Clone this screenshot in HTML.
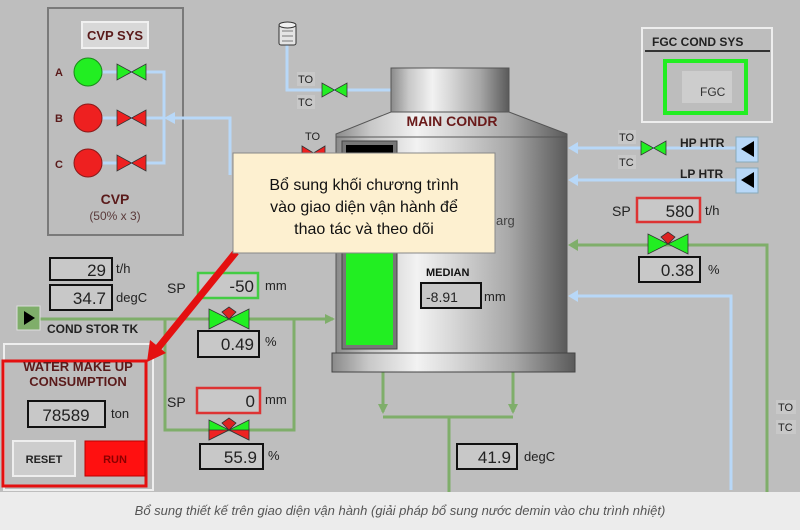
<!DOCTYPE html>
<html><head><meta charset="utf-8"><style>
html,body{margin:0;padding:0;width:800px;height:530px;overflow:hidden;background:#bebebe}
svg{display:block}
text{font-family:"Liberation Sans",sans-serif}
</style></head><body>
<svg width="800" height="530" viewBox="0 0 800 530" xmlns="http://www.w3.org/2000/svg">
<defs>
<linearGradient id="cyl" x1="0" x2="1" y1="0" y2="0">
<stop offset="0" stop-color="#8a8a8a"/><stop offset="0.15" stop-color="#c8c8c8"/><stop offset="0.35" stop-color="#f2f2f2"/><stop offset="0.5" stop-color="#d8d8d8"/><stop offset="0.75" stop-color="#a8a8a8"/><stop offset="1" stop-color="#5a5a5a"/>
</linearGradient>
<marker id="ag" markerWidth="10" markerHeight="10" refX="8" refY="5" orient="auto" markerUnits="userSpaceOnUse"><path d="M0,0 L10,5 L0,10 Z" fill="#7fae6a"/></marker>
</defs>
<rect width="800" height="492" fill="#bebebe"/>
<!-- CVP panel -->
<rect x="48" y="8" width="135" height="227" fill="#bdbdbd" stroke="#7a7a7a" stroke-width="2"/>
<rect x="82" y="22" width="66" height="26" fill="#d8d8d8" stroke="#f0f0f0" stroke-width="2"/>
<text x="115" y="40" font-size="13" font-weight="bold" fill="#5a1a1a" text-anchor="middle">CVP SYS</text>
<g font-size="11" font-weight="bold" fill="#5a1a1a"><text x="55" y="76">A</text><text x="55" y="122">B</text><text x="55" y="168">C</text></g>
<g stroke="#b8d8f8" stroke-width="3" fill="none">
<path d="M100,72 H164 V163 H100"/><path d="M100,118 H164"/>
<path d="M230,175 V118 H172"/>
<path d="M287,45 V90 H391"/>
<path d="M736,148 H572"/><path d="M736,180 H572"/>
<path d="M731,490 V296 H572"/>
</g>
<path d="M164,118 L175,112 L175,124 Z" fill="#b8d8f8"/>
<path d="M568,148 l10,-6 v12 Z M568,180 l10,-6 v12 Z M568,296 l10,-6 v12 Z" fill="#b8d8f8"/>
<circle cx="88" cy="72" r="14" fill="#22ee22" stroke="#1a8a1a"/>
<circle cx="88" cy="118" r="14" fill="#ee2020" stroke="#8a1a1a"/>
<circle cx="88" cy="163" r="14" fill="#ee2020" stroke="#8a1a1a"/>
<g stroke="#333" stroke-width="0.8">
<path d="M117,64 V80 L146,64 V80 Z" fill="#22ee22"/>
<path d="M117,110 V126 L146,110 V126 Z" fill="#ee2020"/>
<path d="M117,155 V171 L146,155 V171 Z" fill="#ee2020"/>
<path d="M322,83 V97 L347,83 V97 Z" fill="#22ee22"/>
<path d="M302,146 V160 L325,146 V160 Z" fill="#ee2020"/>
<path d="M641,141 V155 L666,141 V155 Z" fill="#22ee22"/>
</g>
<text x="115" y="204" font-size="14" font-weight="bold" fill="#5a1a1a" text-anchor="middle">CVP</text>
<text x="115" y="220" font-size="12" fill="#5a3a3a" text-anchor="middle">(50% x 3)</text>
<!-- tank icon -->
<rect x="279" y="25" width="17" height="20" rx="2" fill="#e4e4e4" stroke="#333"/>
<ellipse cx="287.5" cy="25" rx="8.5" ry="3" fill="#f0f0f0" stroke="#333"/>
<path d="M282,31 H293 M282,36 H293 M282,41 H293" stroke="#555" stroke-width="0.8"/>
<g font-size="11" fill="#222"><rect x="297" y="72" width="18" height="14" fill="#c8c8c8"/><text x="298" y="83">TO</text><rect x="297" y="95" width="18" height="14" fill="#c8c8c8"/><text x="298" y="106">TC</text>
<text x="305" y="140">TO</text>
<rect x="618" y="130" width="18" height="14" fill="#c8c8c8"/><text x="619" y="141">TO</text><rect x="618" y="155" width="18" height="14" fill="#c8c8c8"/><text x="619" y="166">TC</text>
<rect x="776" y="400" width="20" height="14" fill="#c8c8c8"/><text x="778" y="411">TO</text><rect x="776" y="420" width="20" height="14" fill="#c8c8c8"/><text x="778" y="431">TC</text></g>
<!-- green lines -->
<g stroke="#7fae6a" stroke-width="3" fill="none">
<path d="M40,319 H333" marker-end="url(#ag)"/>
<path d="M165,319 V430 H294 V319"/>
<path d="M383,372 V412" marker-end="url(#ag)"/><path d="M513,372 V412" marker-end="url(#ag)"/>
<path d="M383,417 H513"/><path d="M449,417 V492"/>
<path d="M767,492 V245 H575"/>
</g>
<path d="M568,245 l10,-6 v12 Z" fill="#7fae6a"/>
<!-- condenser -->
<rect x="391" y="68" width="118" height="45" fill="url(#cyl)" stroke="#555"/>
<path d="M391,112 H509 L567,134 V137 H336 V134 Z" fill="url(#cyl)" stroke="#555"/>
<rect x="336" y="137" width="231" height="216" fill="url(#cyl)" stroke="#555"/>
<rect x="332" y="353" width="243" height="19" fill="url(#cyl)" stroke="#444"/>
<rect x="342" y="141" width="55" height="208" fill="#777" stroke="#444"/>
<rect x="346" y="145" width="47" height="35" fill="#000"/>
<rect x="346" y="180" width="47" height="165" fill="#22ee22"/>
<text x="452" y="126" font-size="14" font-weight="bold" fill="#6a1a1a" text-anchor="middle">MAIN CONDR</text>
<text x="496" y="225" font-size="13" fill="#444">arg</text>
<text x="426" y="276" font-size="11" font-weight="bold" fill="#111">MEDIAN</text>
<rect x="421" y="283" width="60" height="25" fill="#c8c8c8" stroke="#111" stroke-width="2"/>
<text x="426" y="302" font-size="14" fill="#222">-8.91</text><text x="484" y="301" font-size="13" fill="#222">mm</text>
<!-- FGC -->
<rect x="642" y="28" width="130" height="94" fill="#bdbdbd" stroke="#eee" stroke-width="2"/>
<path d="M645,51 H770" stroke="#333" stroke-width="2"/>
<text x="652" y="46" font-size="12" font-weight="bold" fill="#222">FGC COND SYS</text>
<rect x="665" y="61" width="81" height="52" fill="none" stroke="#22ee22" stroke-width="4"/>
<rect x="682" y="71" width="50" height="32" fill="#cdcdcd"/>
<text x="700" y="96" font-size="12" fill="#333">FGC</text>
<g font-size="12" font-weight="bold" fill="#222"><text x="680" y="147">HP HTR</text><text x="680" y="178">LP HTR</text></g>
<rect x="736" y="137" width="22" height="25" fill="#b8d8f8" stroke="#8ab"/><path d="M741,149 L754,141 V157 Z" fill="#000"/>
<rect x="736" y="168" width="22" height="25" fill="#b8d8f8" stroke="#8ab"/><path d="M741,180 L754,172 V188 Z" fill="#000"/>
<!-- value boxes -->
<g font-size="17" fill="#222">
<text x="612" y="216" font-size="14">SP</text>
<rect x="637" y="198" width="63" height="24" fill="#c8c8c8" stroke="#d33" stroke-width="2.5"/><text x="694" y="217" text-anchor="end">580</text><text x="705" y="215" font-size="13">t/h</text>
<rect x="639" y="257" width="61" height="25" fill="#c8c8c8" stroke="#111" stroke-width="2"/><text x="694" y="276" text-anchor="end">0.38</text><text x="708" y="274" font-size="13">%</text>
<rect x="457" y="444" width="60" height="25" fill="#c8c8c8" stroke="#111" stroke-width="2"/><text x="511" y="463" text-anchor="end">41.9</text><text x="524" y="461" font-size="13">degC</text>
<rect x="50" y="258" width="62" height="22" fill="#c8c8c8" stroke="#111" stroke-width="2"/><text x="106" y="276" text-anchor="end">29</text><text x="116" y="273" font-size="13">t/h</text>
<rect x="50" y="285" width="62" height="25" fill="#c8c8c8" stroke="#111" stroke-width="2"/><text x="106" y="304" text-anchor="end">34.7</text><text x="116" y="302" font-size="13">degC</text>
<text x="167" y="293" font-size="14">SP</text>
<rect x="198" y="273" width="60" height="25" fill="#c8c8c8" stroke="#4c4" stroke-width="2.5"/><text x="254" y="292" text-anchor="end">-50</text><text x="265" y="290" font-size="13">mm</text>
<rect x="198" y="331" width="61" height="26" fill="#c8c8c8" stroke="#111" stroke-width="2"/><text x="254" y="350" text-anchor="end">0.49</text><text x="265" y="346" font-size="13">%</text>
<text x="167" y="407" font-size="14">SP</text>
<rect x="197" y="388" width="63" height="25" fill="#c8c8c8" stroke="#d33" stroke-width="2.5"/><text x="255" y="407" text-anchor="end">0</text><text x="265" y="404" font-size="13">mm</text>
<rect x="200" y="444" width="63" height="25" fill="#c8c8c8" stroke="#111" stroke-width="2"/><text x="257" y="463" text-anchor="end">55.9</text><text x="268" y="460" font-size="13">%</text>
</g>
<!-- control valves -->
<g stroke="#333" stroke-width="0.8">
<path d="M648,234 V254 L688,234 V254 Z" fill="#22ee22"/><path d="M661,237 L668,232 L675,237 L668,244 Z" fill="#d22"/>
<path d="M209,309 V329 L249,309 V329 Z" fill="#22ee22"/><path d="M222,312 L229,307 L236,312 L229,319 Z" fill="#d22"/>
<path d="M209,420 V440 L249,420 V440 Z" fill="#22ee22"/><path d="M209,430 V440 L229,430 L249,440 V430 Z" fill="#e22"/><path d="M222,423 L229,418 L236,423 L229,430 Z" fill="#d22"/>
</g>
<!-- cond stor -->
<rect x="17" y="306" width="23" height="24" fill="#7fae6a" stroke="#ddd"/><path d="M24,311 L35,318 L24,325 Z" fill="#000"/>
<text x="47" y="333" font-size="12" font-weight="bold" fill="#222">COND STOR TK</text>
<!-- water make up -->
<rect x="4" y="344" width="149" height="146" fill="#bdbdbd" stroke="#eee" stroke-width="2"/>
<rect x="3" y="361" width="143" height="125" fill="none" stroke="#e41010" stroke-width="3"/>
<text x="78" y="371" font-size="13" font-weight="bold" fill="#5a1a1a" text-anchor="middle">WATER MAKE UP</text>
<text x="78" y="386" font-size="13" font-weight="bold" fill="#5a1a1a" text-anchor="middle">CONSUMPTION</text>
<rect x="28" y="401" width="77" height="26" fill="#c8c8c8" stroke="#111" stroke-width="2"/>
<text x="66" y="421" font-size="17" fill="#222" text-anchor="middle">78589</text>
<text x="111" y="418" font-size="13" fill="#222">ton</text>
<rect x="13" y="441" width="62" height="35" fill="#cdcdcd" stroke="#eee" stroke-width="2"/>
<text x="44" y="463" font-size="11" font-weight="bold" fill="#222" text-anchor="middle">RESET</text>
<rect x="85" y="441" width="60" height="35" fill="#ff1010" stroke="#b00" stroke-width="1"/>
<text x="115" y="463" font-size="11" font-weight="bold" fill="#8a0000" text-anchor="middle">RUN</text>
<!-- red arrow -->
<path d="M236,252 L158,348" stroke="#e41010" stroke-width="7"/>
<path d="M147,362 L150,340 L166,353 Z" fill="#e41010"/>
<!-- popup -->
<rect x="233" y="153" width="262" height="100" fill="#fdf0d0" stroke="#888"/>
<g font-size="16" fill="#111" text-anchor="middle">
<text x="364" y="190">Bổ sung khối chương trình</text>
<text x="364" y="212">vào giao diện vận hành để</text>
<text x="364" y="234">thao tác và theo dõi</text>
</g>
<!-- caption -->
<rect x="0" y="492" width="800" height="38" fill="#ececec"/>
<text x="400" y="515" font-size="13" font-style="italic" fill="#555" text-anchor="middle">Bổ sung thiết kế trên giao diện vận hành (giải pháp bổ sung nước demin vào chu trình nhiệt)</text>
</svg>
</body></html>
